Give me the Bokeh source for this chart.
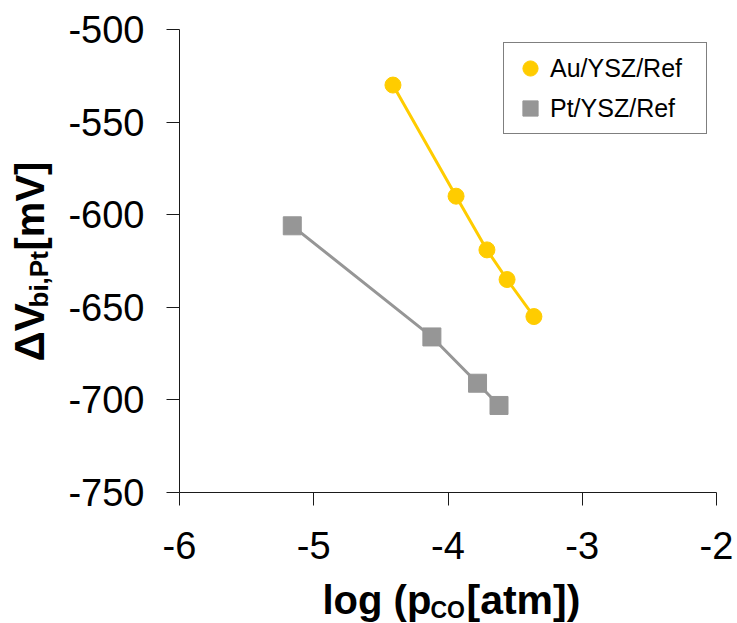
import math
from bokeh.plotting import figure
from bokeh.layouts import row, column
from bokeh.models import ColumnDataSource, Range1d, FixedTicker, Label, Legend, LegendItem
from bokeh.embed import file_html
from bokeh.resources import INLINE

# ---- data ----
au_x = [-4.41, -3.94, -3.71, -3.56, -3.36]
au_y = [-530, -590, -619, -635, -655]
pt_x = [-5.16, -4.12, -3.78, -3.62]
pt_y = [-606, -666, -691, -703]
x_ticks = [-6, -5, -4, -3, -2]
y_ticks = [-750, -700, -650, -600, -550, -500]
au_label = "Au/YSZ/Ref"
pt_label = "Pt/YSZ/Ref"

AU_COLOR = "#FFCC00"
PT_COLOR = "#969696"
FONT = "Liberation Sans"

TOTAL_W, TOTAL_H = 737, 623
YT_W = 60
MAIN_H = 574
XT_H = TOTAL_H - MAIN_H
MAIN_W = TOTAL_W - YT_W
FRAME_TOP, FRAME_BOTTOM = 29, 492

p = figure(width=MAIN_W, height=MAIN_H, output_backend="svg", toolbar_location=None,
           x_range=Range1d(-6, -2), y_range=Range1d(-750, -500),
           min_border_left=179 - YT_W, min_border_right=TOTAL_W - 716,
           min_border_top=FRAME_TOP, min_border_bottom=MAIN_H - FRAME_BOTTOM)
p.outline_line_color = None
p.grid.visible = False
p.background_fill_color = "white"
p.border_fill_color = "white"

for ax, ticks in ((p.xaxis, x_ticks), (p.yaxis, y_ticks)):
    ax.ticker = FixedTicker(ticks=ticks)
    ax.major_label_overrides = {t: str(t) for t in ticks}
    ax.axis_line_color = "#1a1a1a"
    ax.axis_line_width = 1
    ax.major_tick_line_color = "#1a1a1a"
    ax.major_tick_in = 0
    ax.major_tick_out = 13
    ax.minor_tick_in = 0
    ax.minor_tick_out = 0
    ax.major_label_text_font = FONT
    ax.major_label_text_font_size = "38px"
    ax.major_label_text_color = "black"
p.xaxis.major_label_standoff = 26
p.yaxis.major_label_standoff = 22

au_src = ColumnDataSource(dict(x=au_x, y=au_y))
pt_src = ColumnDataSource(dict(x=pt_x, y=pt_y))

p.line("x", "y", source=pt_src, line_color=PT_COLOR, line_width=3)
pt_sc = p.scatter("x", "y", source=pt_src, marker="square", size=18,
                  fill_color=PT_COLOR, line_color=PT_COLOR)
p.line("x", "y", source=au_src, line_color=AU_COLOR, line_width=3)
au_sc = p.scatter("x", "y", source=au_src, marker="circle", size=16,
                  fill_color=AU_COLOR, line_color=AU_COLOR)

legend = Legend(items=[LegendItem(label=au_label, renderers=[au_sc]),
                       LegendItem(label=pt_label, renderers=[pt_sc])],
                location=(324, 358), margin=0, padding=6, spacing=2,
                glyph_width=40, glyph_height=38, label_standoff=0,
                label_width=150, label_height=38,
                label_text_font=FONT, label_text_font_size="25px",
                label_text_color="black",
                border_line_color="black", border_line_width=1,
                background_fill_color="white", background_fill_alpha=1.0)
p.add_layout(legend)


def blank(w, h):
    f = figure(width=w, height=h, output_backend="svg", toolbar_location=None,
               x_range=Range1d(0, w), y_range=Range1d(0, h),
               x_axis_location=None, y_axis_location=None,
               min_border=0, min_border_left=0, min_border_right=0,
               min_border_top=0, min_border_bottom=0)
    f.outline_line_color = None
    f.grid.visible = False
    f.background_fill_color = "white"
    f.border_fill_color = "white"
    return f


def lab(fig, x, y, text, size, angle=0.0):
    fig.add_layout(Label(x=x, y=y, x_units="screen", y_units="screen", text=text,
                         text_font=FONT, text_font_style="bold",
                         text_font_size=size, text_color="black",
                         text_align="left", text_baseline="alphabetic", angle=angle))


# y title: ΔV_bi,Pt [mV]  (rotated, reading upward); this strip's frame
# lines up with the main frame, so y is measured up from the main frame bottom
yt = blank(YT_W, MAIN_H)
a = math.pi / 2
lab(yt, 29, FRAME_BOTTOM - 361, "\u0394V", "42px", a)
lab(yt, 38, FRAME_BOTTOM - 307, "bi,Pt", "26px", a)
lab(yt, 29, FRAME_BOTTOM - 250, "[mV]", "40px", a)

# x title: log (p_CO [atm])
xt = blank(TOTAL_W, XT_H)
lab(xt, 322, 24, "log (p", "40px")
lab(xt, 430, 14, "CO", "23px")
lab(xt, 466, 24, "[atm])", "41px")

layout = column(row(yt, p, spacing=0), xt, spacing=0)

open("out.html", "w").write(file_html(layout, INLINE))
